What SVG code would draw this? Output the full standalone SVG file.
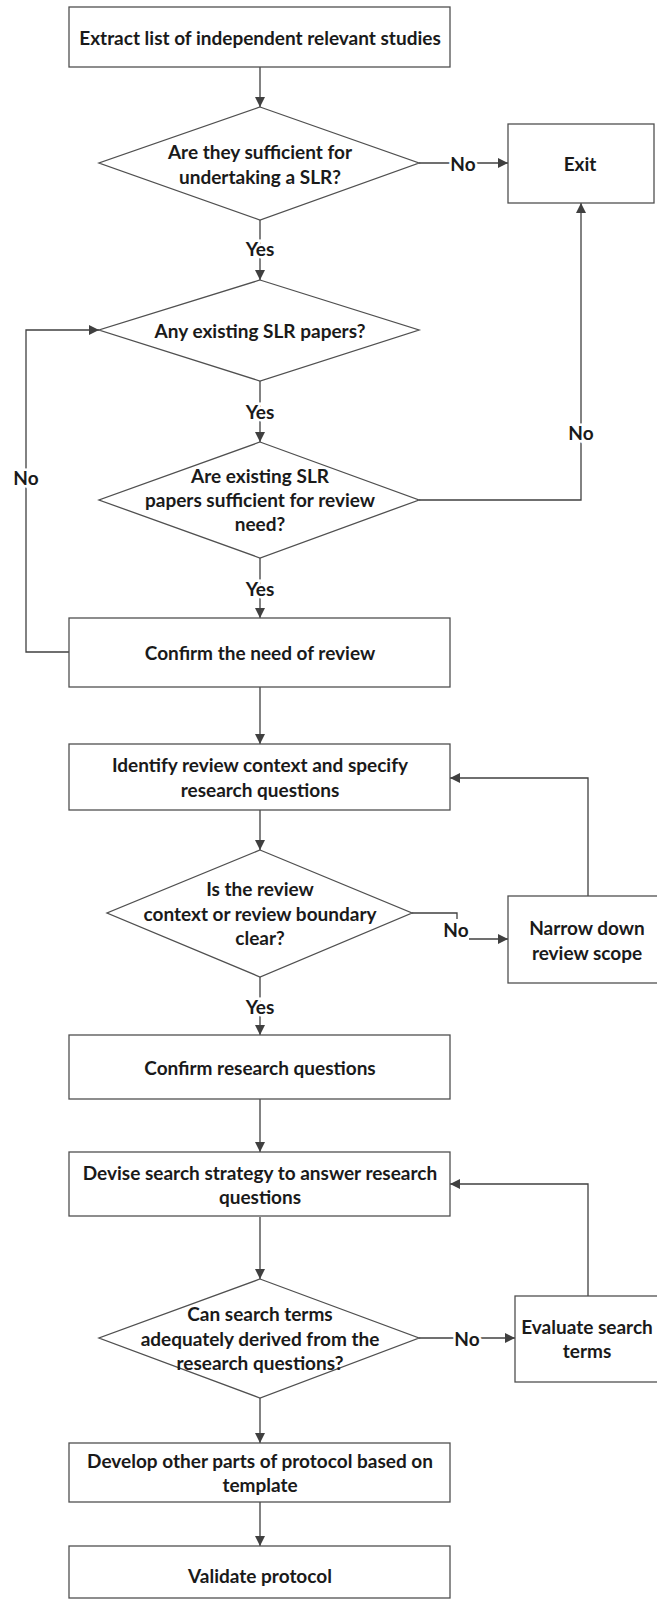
<svg xmlns="http://www.w3.org/2000/svg" width="657" height="1600" viewBox="0 0 657 1600">
<defs>
<marker id="ah" viewBox="0 0 10 10" refX="10" refY="5" markerWidth="10" markerHeight="10" markerUnits="userSpaceOnUse" orient="auto">
<path d="M0,0 L10,5 L0,10 Z" fill="#404040"/>
</marker>
<style>
.n{fill:#fff;stroke:#505050;stroke-width:1.3}
.t{font-family:Lato,"Liberation Sans",sans-serif;font-weight:bold;font-size:19px;fill:#1a1a1a;text-anchor:middle;dominant-baseline:central}
.c{fill:none;stroke:#404040;stroke-width:1.3}
.l{font-family:Lato,"Liberation Sans",sans-serif;font-weight:bold;font-size:19px;fill:#1a1a1a;text-anchor:middle;dominant-baseline:central;stroke:#fff;stroke-width:5;paint-order:stroke}
</style>
</defs>
<rect width="657" height="1600" fill="#fff"/>
<g id="connectors">
<path class="c" d="M260,67 V107" marker-end="url(#ah)"/>
<path class="c" d="M419,163 H508" marker-end="url(#ah)"/>
<path class="c" d="M260,220 V280" marker-end="url(#ah)"/>
<path class="c" d="M260,381 V442" marker-end="url(#ah)"/>
<path class="c" d="M419,500 H581 V203" marker-end="url(#ah)"/>
<path class="c" d="M69,652 H26 V330 H99" marker-end="url(#ah)"/>
<path class="c" d="M260,558 V618" marker-end="url(#ah)"/>
<path class="c" d="M260,687 V744" marker-end="url(#ah)"/>
<path class="c" d="M260,810 V850" marker-end="url(#ah)"/>
<path class="c" d="M412,913 H457 V919"/>
<path class="c" d="M469,939 H508" marker-end="url(#ah)"/>
<path class="c" d="M588,896 V778 H450" marker-end="url(#ah)"/>
<path class="c" d="M260,977 V1035" marker-end="url(#ah)"/>
<path class="c" d="M260,1099 V1152" marker-end="url(#ah)"/>
<path class="c" d="M260,1217 V1279" marker-end="url(#ah)"/>
<path class="c" d="M419,1338 H515" marker-end="url(#ah)"/>
<path class="c" d="M588,1296 V1184 H450" marker-end="url(#ah)"/>
<path class="c" d="M260,1398 V1443" marker-end="url(#ah)"/>
<path class="c" d="M260,1502 V1546" marker-end="url(#ah)"/>
<text class="l" x="463" y="163">No</text>
<text class="l" x="260" y="248">Yes</text>
<text class="l" x="260" y="411">Yes</text>
<text class="l" x="581" y="432">No</text>
<text class="l" x="26" y="477">No</text>
<text class="l" x="260" y="588">Yes</text>
<text class="l" x="456" y="929">No</text>
<text class="l" x="260" y="1006">Yes</text>
<text class="l" x="467" y="1338">No</text>
</g>
<g id="extract"><rect class="n" x="69" y="7" width="381" height="60"/><text class="t" x="260" y="37">Extract list of independent relevant studies</text></g>
<g id="sufficient"><polygon class="n" points="260,107 419,163 260,220 99,163"/><text class="t" x="260" y="151">Are they sufficient for</text><text class="t" x="260" y="176">undertaking a SLR?</text></g>
<g id="exit"><rect class="n" x="508" y="124" width="146" height="79"/><text class="t" x="580" y="163">Exit</text></g>
<g id="any-existing"><polygon class="n" points="260,280 419,330 260,381 99,330"/><text class="t" x="260" y="330">Any existing SLR papers?</text></g>
<g id="existing-sufficient"><polygon class="n" points="260,442 419,500 260,558 99,500"/><text class="t" x="260" y="475">Are existing SLR</text><text class="t" x="260" y="499">papers sufficient for review</text><text class="t" x="260" y="523">need?</text></g>
<g id="confirm-need"><rect class="n" x="69" y="618" width="381" height="69"/><text class="t" x="260" y="652">Confirm the need of review</text></g>
<g id="identify"><rect class="n" x="69" y="744" width="381" height="66"/><text class="t" x="260" y="764">Identify review context and specify</text><text class="t" x="260" y="789">research questions</text></g>
<g id="boundary"><polygon class="n" points="260,850 412,913 260,977 107,913"/><text class="t" x="260" y="888">Is the review</text><text class="t" x="260" y="913">context or review boundary</text><text class="t" x="260" y="937">clear?</text></g>
<g id="narrow"><rect class="n" x="508" y="896" width="152" height="87"/><text class="t" x="587" y="927">Narrow down</text><text class="t" x="587" y="952">review scope</text></g>
<g id="confirm-rq"><rect class="n" x="69" y="1035" width="381" height="64"/><text class="t" x="260" y="1067">Confirm research questions</text></g>
<g id="devise"><rect class="n" x="69" y="1152" width="381" height="64"/><text class="t" x="260" y="1172">Devise search strategy to answer research</text><text class="t" x="260" y="1196">questions</text></g>
<g id="search-terms"><polygon class="n" points="260,1279 419,1338 260,1398 99,1338"/><text class="t" x="260" y="1313">Can search terms</text><text class="t" x="260" y="1338">adequately derived from the</text><text class="t" x="260" y="1362">research questions?</text></g>
<g id="evaluate"><rect class="n" x="515" y="1296" width="145" height="86"/><text class="t" x="587" y="1326">Evaluate search</text><text class="t" x="587" y="1350">terms</text></g>
<g id="develop"><rect class="n" x="69" y="1443" width="381" height="59"/><text class="t" x="260" y="1460">Develop other parts of protocol based on</text><text class="t" x="260" y="1484">template</text></g>
<g id="validate"><rect class="n" x="69" y="1546" width="381" height="52"/><text class="t" x="260" y="1575">Validate protocol</text></g>
</svg>
